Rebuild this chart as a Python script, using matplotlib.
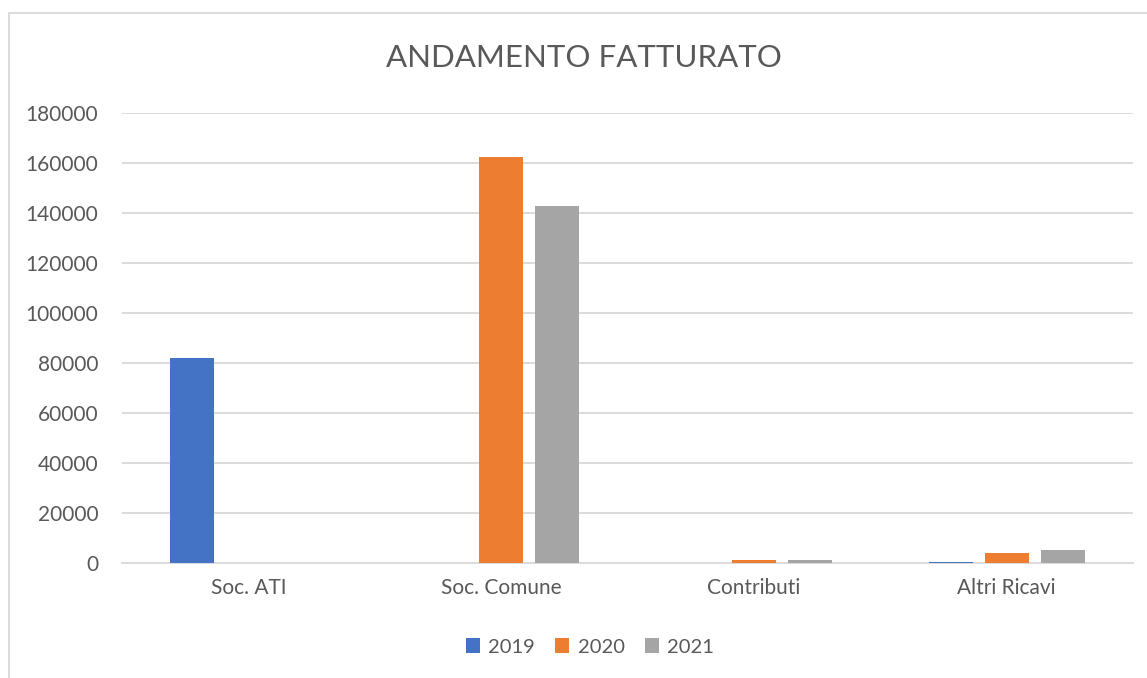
import numpy as np
import matplotlib.pyplot as plt
from matplotlib.patches import Rectangle, Patch

categories = ['Soc. ATI', 'Soc. Comune', 'Contributi', 'Altri Ricavi']
years = ['2019', '2020', '2021']
val_2019 = [82200, 0, 0, 500]
val_2020 = [0, 162300, 1200, 4000]
val_2021 = [0, 142800, 1400, 5100]
colors = ['#4472C4', '#ED7D31', '#A5A5A5']

plt.rcParams['font.family'] = ['Lato', 'DejaVu Sans']
text_col = '#595959'

W, H = 1147, 678
fig = plt.figure(figsize=(W / 100, H / 100), dpi=100)
fig.patch.set_facecolor('white')

# chart border (cut off at right/bottom like the screenshot)
fig.patches.append(Rectangle((9 / W, -0.05), 1.1, (H - 13) / H + 0.05,
                             transform=fig.transFigure, fill=False,
                             edgecolor='#D9D9D9', lw=1.3))

ax = fig.add_axes([122 / W, 1 - 563 / H, (1133 - 122) / W, (563 - 113) / H])
x = np.arange(len(categories))
width = 0.174
step = 0.2215
series = [val_2019, val_2020, val_2021]
for i, vals in enumerate(series):
    ax.bar(x + (i - 1) * step, vals, width, color=colors[i], zorder=3)

ax.set_xlim(-0.5, len(categories) - 0.5)
ax.set_ylim(0, 180000)
ax.set_yticks(np.arange(0, 180001, 20000))
ax.yaxis.grid(True, color='#D9D9D9', lw=1.3, zorder=0)
for s in ['top', 'right', 'left']:
    ax.spines[s].set_visible(False)
ax.spines['bottom'].set_color('#D9D9D9')
ax.spines['bottom'].set_linewidth(1.3)
ax.set_xticks(x)
ax.set_xticklabels(categories)
ax.tick_params(axis='both', length=0, labelsize=15, colors=text_col)
ax.tick_params(axis='x', pad=11)
ax.tick_params(axis='y', pad=17)

fig.text(584 / W, 1 - 58 / H, 'ANDAMENTO FATTURATO', ha='center', va='center',
         fontsize=22.5, color=text_col)

handles = [Patch(facecolor=c, label=y) for c, y in zip(colors, years)]
fig.legend(handles=handles, loc='center', bbox_to_anchor=(590 / W, 1 - 647 / H),
           ncol=3, frameon=False, fontsize=14.5, labelcolor=text_col,
           handlelength=0.7, handleheight=0.7, handletextpad=0.4,
           columnspacing=1.0)

fig.savefig('out.png', dpi=100)
